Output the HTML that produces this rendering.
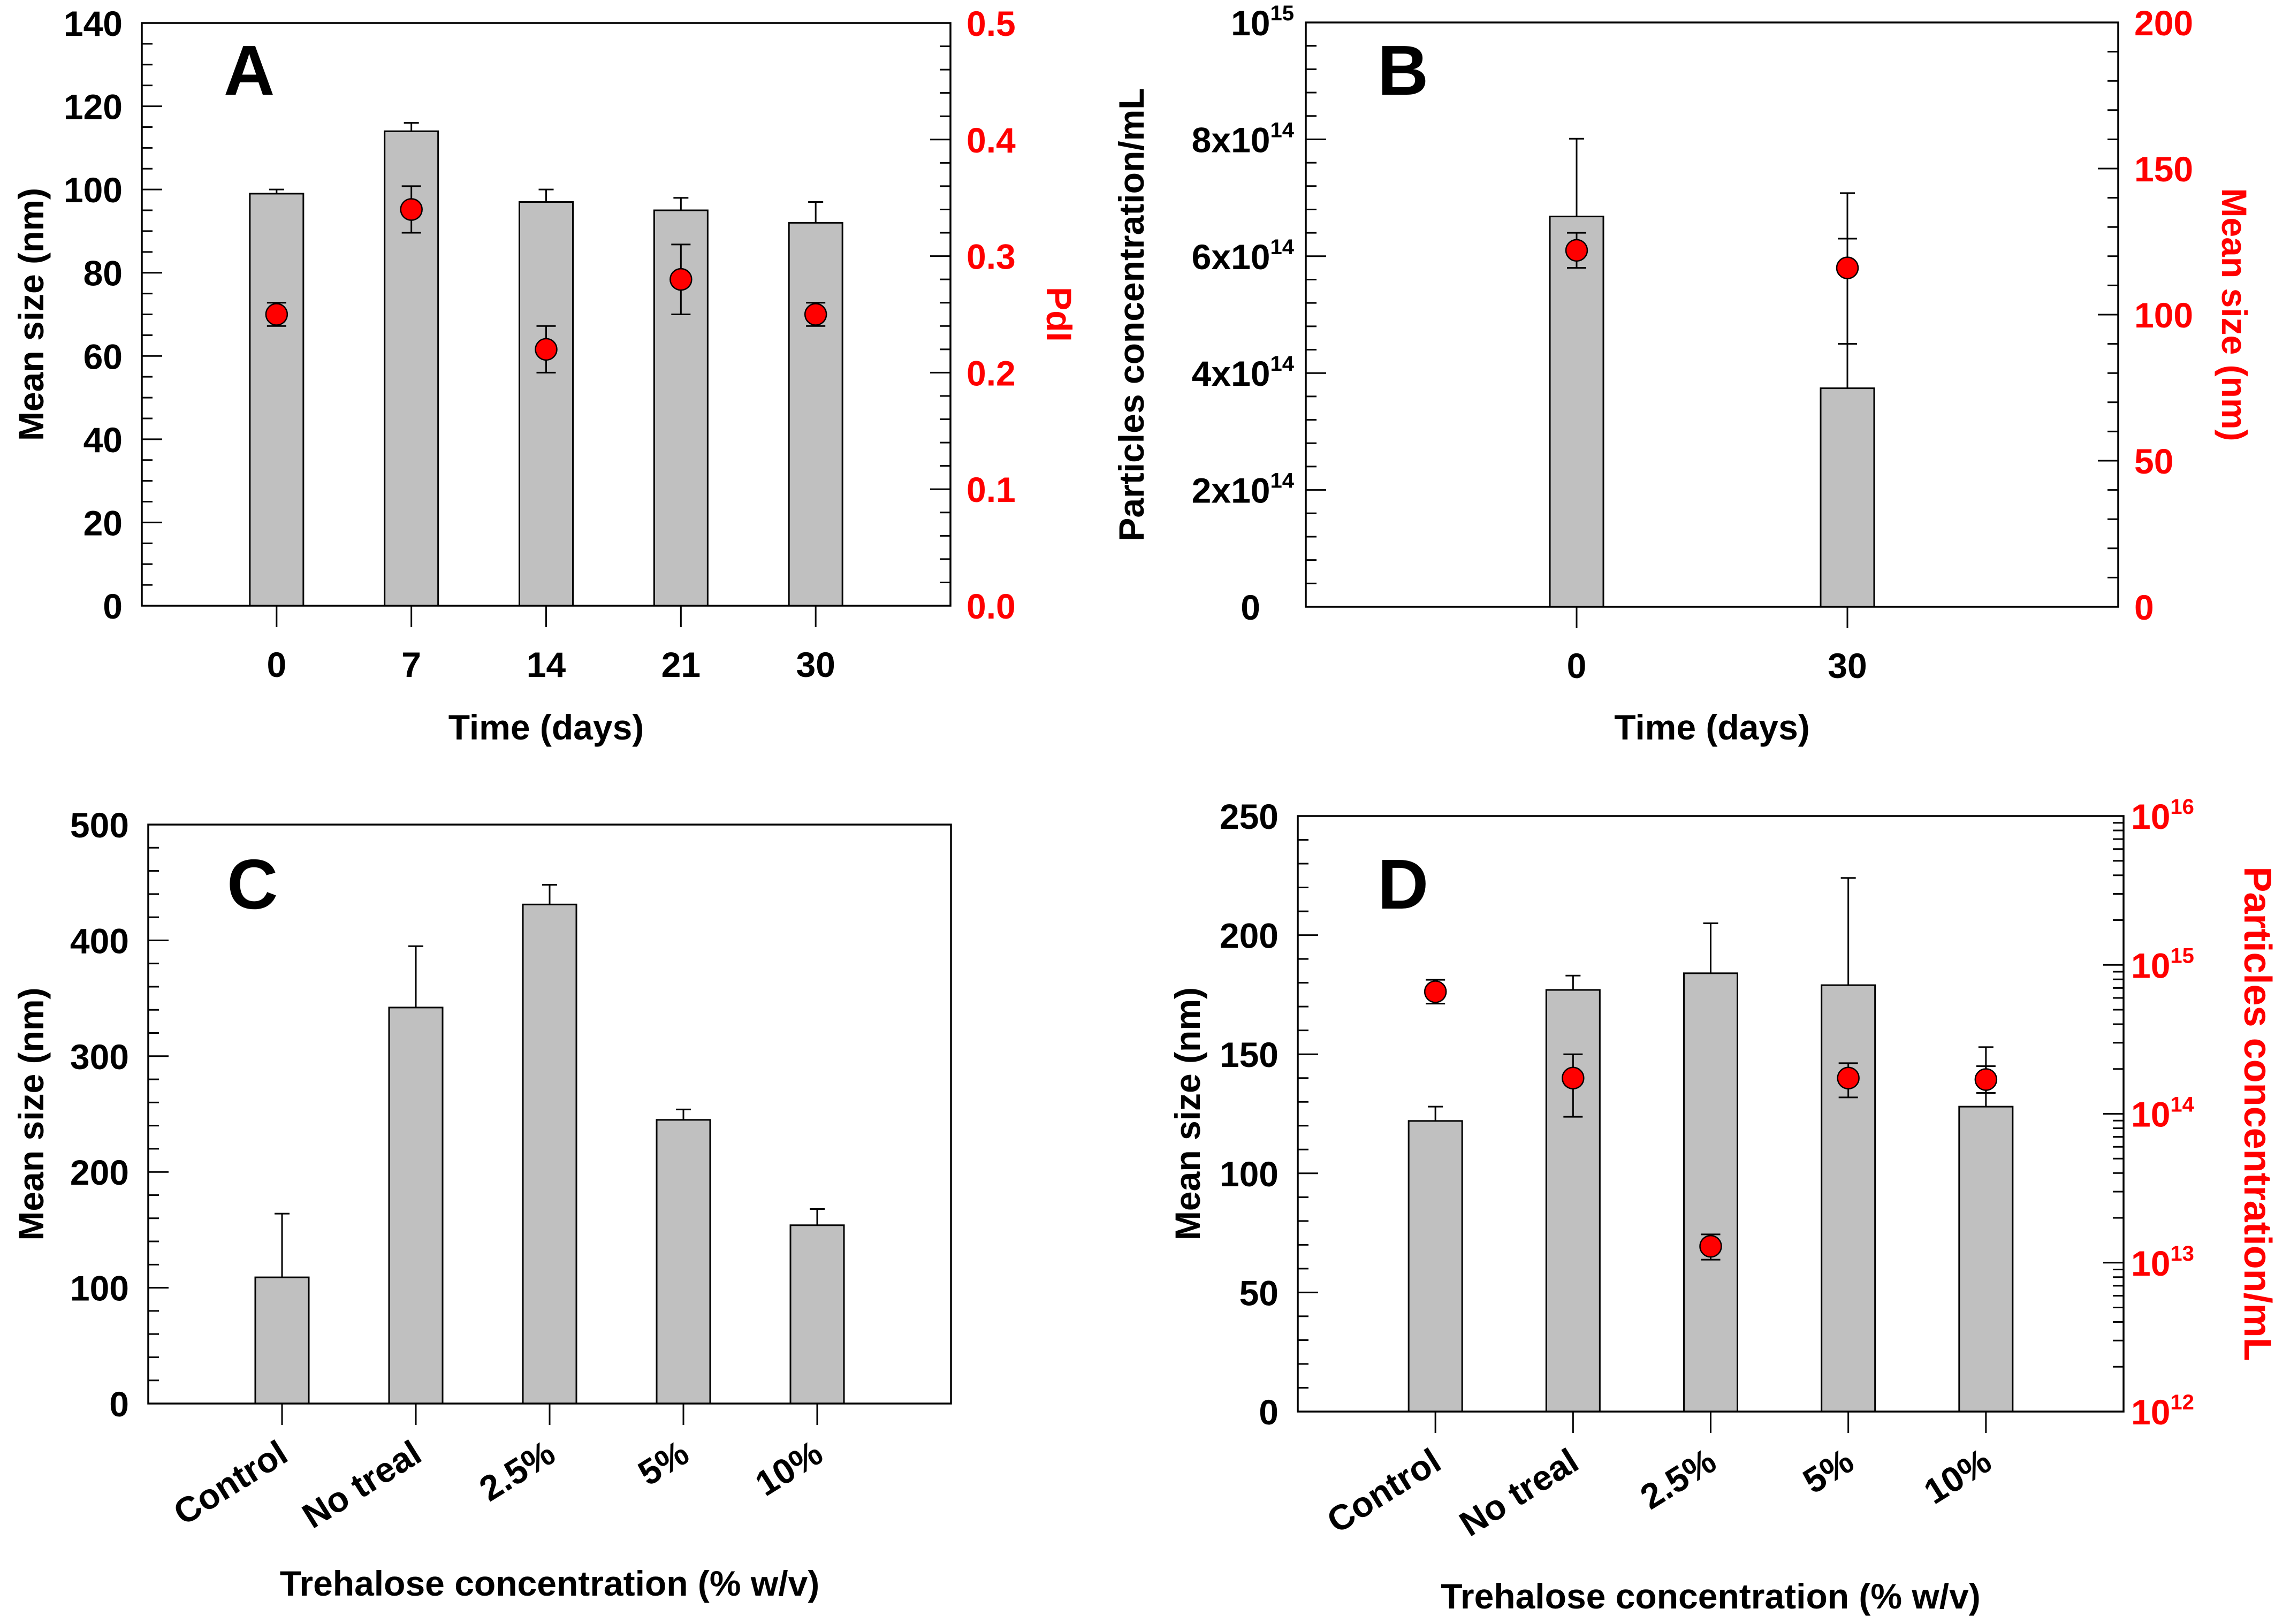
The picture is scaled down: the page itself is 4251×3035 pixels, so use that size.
<!DOCTYPE html>
<html><head><meta charset="utf-8"><title>Nanoparticle stability panels</title>
<style>html,body{margin:0;padding:0;background:#fff;}svg{display:block;}text{font-family:"Liberation Sans",Arial,sans-serif;font-weight:bold;}</style>
</head><body>
<svg id="fig" xmlns="http://www.w3.org/2000/svg" width="4251" height="3035" viewBox="0 0 4251 3035">
<rect x="0" y="0" width="4251" height="3035" fill="#fff"/>
</svg>
<script>
// ---- Panel A data ----
const A_categories = ['0','7','14','21','30'];
const A_size = [99,114,97,95,92];
const A_sizeErr = [1,2,3,3,5];
const A_pdi = [0.25,0.34,0.22,0.28,0.25];
const A_pdiErr = [0.01,0.02,0.02,0.03,0.01];
const A_leftTicks = [0,20,40,60,80,100,120,140];
const A_rightTicks = [0,0.1,0.2,0.3,0.4,0.5];
// ---- Panel B data ----
const B_categories = ['0','30'];
const B_conc = [6.68e14,3.74e14];
const B_concErr = [1.33e14,3.34e14];
const B_size = [122,116];
const B_sizeErrLow = [6,26];
const B_sizeErrHigh = [6,10];
const B_leftTicks = [0,2e14,4e14,6e14,8e14,1e15];
const B_rightTicks = [0,50,100,150,200];
// ---- Panel C data ----
const C_categories = ['Control','No treal','2.5%','5%','10%'];
const C_size = [109,342,431,245,154];
const C_sizeErr = [55,53,17,9,14];
const C_leftTicks = [0,100,200,300,400,500];
// ---- Panel D data ----
const D_categories = ['Control','No treal','2.5%','5%','10%'];
const D_size = [122,177,184,179,128];
const D_sizeErr = [6,6,21,45,25];
const D_concLog = [14.82,14.24,13.11,14.24,14.23];
const D_concLogLow = [14.74,13.98,13.02,14.11,14.14];
const D_concLogHigh = [14.90,14.40,13.19,14.34,14.32];
const D_leftTicks = [0,50,100,150,200,250];
const D_rightExp = [12,13,14,15,16];

const svg = document.getElementById('fig');
const NS = 'http://www.w3.org/2000/svg';
function mk(tag, attrs, parent){
  const e = document.createElementNS(NS, tag);
  for (const k in attrs) e.setAttribute(k, attrs[k]);
  (parent||svg).appendChild(e);
  return e;
}
function line(p,x1,y1,x2,y2,c,w){return mk('line',{x1:x1,y1:y1,x2:x2,y2:y2,stroke:c||'#000','stroke-width':w||3},p);}
function txt(p,x,y,s,opts){
  const t = mk('text',Object.assign({x:x,y:y,'font-size':66,fill:'#000'},opts||{}),p);
  t.textContent = s; return t;
}
function powTxt(p,x,y,mant,exp,opts){
  const t = mk('text',Object.assign({x:x,y:y,'font-size':66,fill:'#000'},opts||{}),p);
  const a = mk('tspan',{},t); a.textContent = mant;
  const b = mk('tspan',{dy:-28,'font-size':40},t); b.textContent = exp;
  return t;
}
function fmtSci(v){
  if(v===0) return null;
  const e = Math.floor(Math.log10(v)+1e-9);
  const m = Math.round(v/Math.pow(10,e));
  return {m: m===1 ? '10' : m+'x10', e: String(e)};
}

function panel(cfg){
  const g = mk('g',{});
  
  
  const {x0,x1,y0,y1} = cfg;
  const n = cfg.cats.length;
  const step = (x1-x0)/(n+1);
  const xc = i => x0 + (i+1)*step;
  const yL = v => y1 - (v-cfg.lMin)/(cfg.lMax-cfg.lMin)*(y1-y0);
  const yR = v => y1 - (v-cfg.rMin)/(cfg.rMax-cfg.rMin)*(y1-y0);
  cfg.bars.forEach((v,i)=>{
    const bw = 100;
    const yv = cfg.barScale(v);
    const eg = mk('g',{},g);
    
    
    const yt = cfg.barScale(v + cfg.barErr[i]);
    line(eg,xc(i),yv,xc(i),yt,'#000',3);
    line(eg,xc(i)-14,yt,xc(i)+14,yt,'#000',3);
    const r = mk('rect',{x:xc(i)-bw/2,y:yv,width:bw,height:y1-yv,fill:'#c0c0c0',stroke:'#000','stroke-width':3},g);
    
    
  });
  if(cfg.pts){
    cfg.pts.forEach((v,i)=>{
      const pg = mk('g',{},g);
      
      
      const lo = cfg.ptScale(cfg.ptLo[i]), hi = cfg.ptScale(cfg.ptHi[i]);
      line(pg,xc(i),lo,xc(i),hi,'#000',3);
      line(pg,xc(i)-18,lo,xc(i)+18,lo,'#000',3);
      line(pg,xc(i)-18,hi,xc(i)+18,hi,'#000',3);
      const c = mk('circle',{cx:xc(i),cy:cfg.ptScale(v),r:20,fill:'#ff0000',stroke:'#000','stroke-width':2.5},g);
      
      
    });
  }
  const fr = mk('rect',{x:x0,y:y0,width:x1-x0,height:y1-y0,fill:'none',stroke:'#000','stroke-width':3.5},g);
  
  
  const la = mk('g',{},g);
  
  
  const lt = cfg.lTicks;
  for(let k=0;k<lt.length;k++){
    const yy = yL(lt[k]);
    line(la,x0,yy,x0+38,yy);
    if(k<lt.length-1){
      for(let m=1;m<cfg.lMinor;m++){
        const ym = yL(lt[k]+(lt[k+1]-lt[k])*m/cfg.lMinor);
        line(la,x0,ym,x0+20,ym);
      }
    }
    if(cfg.lSci){
      const f = fmtSci(lt[k]);
      if(f) powTxt(la,x0-22,yy+24,f.m,f.e,{'text-anchor':'end'});
      else txt(la,x0-85,yy+24,'0',{'text-anchor':'end'});
    } else {
      txt(la,x0-36,yy+24,String(lt[k]),{'text-anchor':'end'});
    }
  }
  if(cfg.rTicks){
    const ra = mk('g',{},g);
    
    
    const rt = cfg.rTicks;
    for(let k=0;k<rt.length;k++){
      const yy = yR(rt[k]);
      line(ra,x1-38,yy,x1,yy);
      if(k<rt.length-1){
        if(cfg.rLog){
          for(let m=2;m<10;m++){
            const ym = yR(rt[k]+Math.log10(m));
            line(ra,x1-20,ym,x1,ym);
          }
        } else {
          for(let m=1;m<cfg.rMinor;m++){
            const ym = yR(rt[k]+(rt[k+1]-rt[k])*m/cfg.rMinor);
            line(ra,x1-20,ym,x1,ym);
          }
        }
      }
      if(cfg.rLog) powTxt(ra,x1+14,yy+24,'10',String(rt[k]),{fill:'#ff0000'});
      else txt(ra,x1+30,yy+24,cfg.rFmt(rt[k]),{fill:'#ff0000'});
    }
  }
  const ba = mk('g',{},g);
  
  
  cfg.cats.forEach((c,i)=>{
    line(ba,xc(i),y1,xc(i),y1+40);
    if(cfg.rotLabels){
      const t = txt(ba,xc(i)+15,y1+105,c,{'text-anchor':'end',transform:'rotate(-32 '+(xc(i)+15)+' '+(y1+105)+')'});
      
      
    } else {
      const t = txt(ba,xc(i),y1+133,c,{'text-anchor':'middle'});
      
      
    }
  });
  const xt = txt(g,(x0+x1)/2,cfg.xTitleY,cfg.xTitle,{'text-anchor':'middle'});
  
  
  const yt = txt(g,0,0,cfg.lTitle,{'text-anchor':'middle',transform:'translate('+(cfg.lTitleX+24)+','+((y0+y1)/2)+') rotate(-90)'});
  
  
  if(cfg.rTitle){
    const rt2 = txt(g,0,0,cfg.rTitle,{'text-anchor':'middle',fill:'#ff0000','font-size':cfg.rTitleSize||66,transform:'translate('+(cfg.rTitleX-24)+','+((y0+y1)/2)+') rotate(90)'});
    
    
  }
  const L = txt(g,cfg.letterX,cfg.letterY,cfg.letter,{'font-size':132});
  
  
}

(function(){
  const y0=43,y1=1132;
  const yP = v => y1 - v/0.5*(y1-y0);
  panel({name:'panel-a',x0:265,x1:1776,y0:y0,y1:y1,cats:A_categories,
    lMin:0,lMax:140,lTicks:A_leftTicks,lMinor:4,
    rMin:0,rMax:0.5,rTicks:A_rightTicks,rMinor:5,rFmt:v=>v.toFixed(1),
    bars:A_size,barErr:A_sizeErr,barScale:v=>y1 - v/140*(y1-y0),
    pts:A_pdi,ptLo:A_pdi.map((v,i)=>v-A_pdiErr[i]),ptHi:A_pdi.map((v,i)=>v+A_pdiErr[i]),ptScale:yP,
    xTitle:'Time (days)',xTitleY:1382,lTitle:'Mean size (nm)',lTitleX:57,rTitle:'PdI',rTitleX:1980,
    letter:'A',letterX:418,letterY:177});
})();
(function(){
  const y0=42,y1=1134;
  const yS = v => y1 - v/200*(y1-y0);
  panel({name:'panel-b',x0:2440,x1:3958,y0:y0,y1:y1,cats:B_categories,
    lMin:0,lMax:1e15,lTicks:B_leftTicks,lMinor:5,lSci:true,
    rMin:0,rMax:200,rTicks:B_rightTicks,rMinor:5,rFmt:v=>String(v),
    bars:B_conc,barErr:B_concErr,barScale:v=>y1 - v/1e15*(y1-y0),
    pts:B_size,ptLo:B_size.map((v,i)=>v-B_sizeErrLow[i]),ptHi:B_size.map((v,i)=>v+B_sizeErrHigh[i]),ptScale:yS,
    xTitle:'Time (days)',xTitleY:1382,lTitle:'Particles concentration/mL',lTitleX:2113,rTitle:'Mean size (nm)',rTitleX:4176,
    letter:'B',letterX:2574,letterY:177});
})();
(function(){
  const y0=1541,y1=2623;
  panel({name:'panel-c',x0:277,x1:1777,y0:y0,y1:y1,cats:C_categories,
    lMin:0,lMax:500,lTicks:C_leftTicks,lMinor:5,
    bars:C_size,barErr:C_sizeErr,barScale:v=>y1 - v/500*(y1-y0),
    rotLabels:true,
    xTitle:'Trehalose concentration (% w/v)',xTitleY:2982,lTitle:'Mean size (nm)',lTitleX:57,
    letter:'C',letterX:424,letterY:1698});
})();
(function(){
  const y0=1525,y1=2638;
  const yC = v => y1 - (v-12)/4*(y1-y0);
  panel({name:'panel-d',x0:2425,x1:3968,y0:y0,y1:y1,cats:D_categories,
    lMin:0,lMax:250,lTicks:D_leftTicks,lMinor:5,
    rMin:12,rMax:16,rTicks:D_rightExp,rLog:true,
    bars:D_size,barErr:D_sizeErr,barScale:v=>y1 - v/250*(y1-y0),
    pts:D_concLog,ptLo:D_concLogLow,ptHi:D_concLogHigh,ptScale:yC,
    rotLabels:true,
    xTitle:'Trehalose concentration (% w/v)',xTitleY:3006,lTitle:'Mean size (nm)',lTitleX:2218,rTitle:'Particles concentration/mL',rTitleX:4218,rTitleSize:72,
    letter:'D',letterX:2574,letterY:1698});
})();
</script>
</body></html>
